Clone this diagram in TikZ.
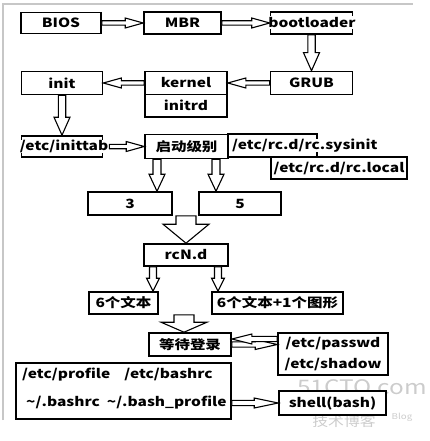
\documentclass[tikz,border=0pt]{standalone}
\usepackage{fontspec}
\setmainfont{Noto Sans CJK SC}[FakeStretch=1.22]
\usetikzlibrary{calc}
\tikzset{
  lbl/.style={font=\fontsize{12.7}{14}\selectfont\bfseries, inner sep=0pt},
  box/.style={lbl, draw, line width=1.6pt, fill=white},
  cover/.style={lbl, fill=white, inner xsep=1pt, minimum height=13pt},
  frame/.style={draw=black!22, line width=1.4pt},
  wm/.style={text=black!20, inner sep=0pt},
  fat/.style n args={3}{draw, line width=1.1pt, fill=white, line join=miter,
    to path={let \p1=($(\tikztotarget)!#3!(\tikztostart)$) in
      ($(\tikztostart)!#1!90:(\tikztotarget)$) -- ($(\p1)!#1!-90:(\tikztostart)$)
      -- ($(\p1)!#2!-90:(\tikztostart)$) -- (\tikztotarget)
      -- ($(\p1)!#2!90:(\tikztostart)$) -- ($(\p1)!#1!90:(\tikztostart)$)
      -- ($(\tikztostart)!#1!-90:(\tikztotarget)$) -- cycle}},
}
\begin{document}
\begin{tikzpicture}[x=1pt,y=-1pt]
\useasboundingbox (0,0) rectangle (430,441);
% frame
\coordinate (fa) at (3,420);
\coordinate (fb) at (3,4);
\coordinate (fc) at (413,4);
\draw[frame] (fa) -- (fb) -- (fc);
% watermark
\node[wm, font=\fontsize{20}{20}\selectfont] (wm1) at (362,387) {51CTO.com};
\node[wm, font=\fontsize{13}{13}\selectfont] (wm2) at (344,422) {技术博客};
\node[wm, font=\fontsize{8}{8}\selectfont] (wm3) at (402,417) {Blog};
% boxes
\node[box, minimum width=80pt, minimum height=21pt] (bios) at (61,23) {BIOS};
\node[box, minimum width=77pt, minimum height=22pt] (mbr) at (182.5,23) {MBR};
\node[box, minimum width=82pt, minimum height=22pt] (boot) at (311.5,23) {};
\node[cover] (bootT) at (312,23) {bootloader};
\node[box, minimum width=82pt, minimum height=23pt] (grub) at (311.5,83) {GRUB};
\node[box, minimum width=82pt, minimum height=23pt] (kernel) at (186,83) {kernel};
\node[box, minimum width=82pt, minimum height=22.5pt] (initrd) at (186,105.75) {initrd};
\node[box, minimum width=81pt, minimum height=23pt] (init) at (62,83) {init};
\node[box, minimum width=81pt, minimum height=21pt] (inittab) at (62,146.5) {};
\node[cover] (inittabT) at (64,146.5) {/etc/inittab};
\node[box, minimum width=83pt, minimum height=24pt] (qidong) at (186.5,146.5) {启动级别};
\node[box, minimum width=89pt, minimum height=23pt] (sysinit) at (272.5,145.5) {};
\node[cover, anchor=west] (sysinitT) at (231,145.5) {/etc/rc.d/rc.sysinit};
\node[box, minimum width=136pt, minimum height=22pt] (rclocal) at (339,168) {/etc/rc.d/rc.local};
\node[box, minimum width=84pt, minimum height=23pt] (three) at (130,203.5) {3};
\node[box, minimum width=82pt, minimum height=23pt] (five) at (240,203.5) {5};
\node[box, minimum width=84pt, minimum height=22pt] (rcn) at (186,255) {rcN.d};
\node[box, minimum width=69pt, minimum height=22pt] (six) at (123.5,303) {6个文本};
\node[box, minimum width=131pt, minimum height=22pt] (sixone) at (277.5,303) {6个文本+1个图形};
\node[box, minimum width=82pt, minimum height=23pt] (wait) at (190,344.5) {等待登录};
\node[box, minimum width=110pt, minimum height=42pt] (pw) at (333,354) {};
\node[lbl] (pwA) at (333,344) {/etc/passwd};
\node[lbl] (pwB) at (333,364) {/etc/shadow};
\node[box, minimum width=215pt, minimum height=56pt] (profile) at (123.5,391) {};
\node[lbl, anchor=west] (profA) at (22,375) {/etc/profile\hspace{14pt}/etc/bashrc};
\node[lbl, anchor=west] (profB) at (26,403) {\textasciitilde/.bashrc\hspace{7pt}\textasciitilde/.bash\_profile};
\node[box, minimum width=107pt, minimum height=24pt] (shell) at (332.5,403) {shell(bash)};
% helper coordinates
\coordinate (tabout) at ([xshift=6pt]inittab.east);
\coordinate (q3s) at ([xshift=-29.5pt]qidong.south);
\coordinate (q3e) at (q3s |- three.north);
\coordinate (q5s) at ([xshift=29.5pt]qidong.south);
\coordinate (q5e) at (q5s |- five.north);
\coordinate (b1s) at (rcn.north |- three.south);
\coordinate (r6s) at ([xshift=-33pt]rcn.south);
\coordinate (r6e) at (r6s |- six.north);
\coordinate (r7s) at ([xshift=32pt]rcn.south);
\coordinate (r7e) at (r7s |- sixone.north);
\coordinate (b2e) at ([xshift=-6pt]wait.north);
\coordinate (b2s) at (b2e |- six.south);
\coordinate (pwe) at (wait.east -| pw.west);
\coordinate (pws) at ([yshift=15pt]pw.west);
\coordinate (pwp) at (pws -| profile.east);
\coordinate (prs) at (shell.west -| profile.east);
% arrows
\draw[fat={2.2pt}{5pt}{18pt}] (bios.east) to (mbr.west);
\draw[fat={2.2pt}{5pt}{18pt}] (mbr.east) to (boot.west);
\draw[fat={3.7pt}{8pt}{18pt}] (boot.south) to (grub.north);
\draw[fat={2.2pt}{5pt}{18pt}] (grub.west) to (kernel.east);
\draw[fat={2.2pt}{5pt}{18pt}] (kernel.west) to (init.east);
\draw[fat={3.7pt}{8pt}{18pt}] (init.south) to (inittab.north);
\draw[fat={2.2pt}{5pt}{18pt}] (tabout) to (qidong.west);
\draw[fat={4pt}{8pt}{17pt}] (q3s) to (q3e);
\draw[fat={4pt}{8pt}{17pt}] (q5s) to (q5e);
\draw[fat={10pt}{23pt}{19pt}] (b1s) to (rcn.north);
\draw[fat={3.5pt}{6.5pt}{13pt}] (r6s) to (r6e);
\draw[fat={3.5pt}{6.5pt}{13pt}] (r7s) to (r7e);
\draw[fat={10pt}{23pt}{10pt}] (b2s) to (b2e);
\draw[fat={2.6pt}{5pt}{22pt}] (wait.east) to (pwe);
\draw[fat={2.6pt}{5pt}{20pt}] (pws) to (pwp);
\draw[fat={2.6pt}{5pt}{24pt}] (prs) to (shell.west);
\end{tikzpicture}
\end{document}
